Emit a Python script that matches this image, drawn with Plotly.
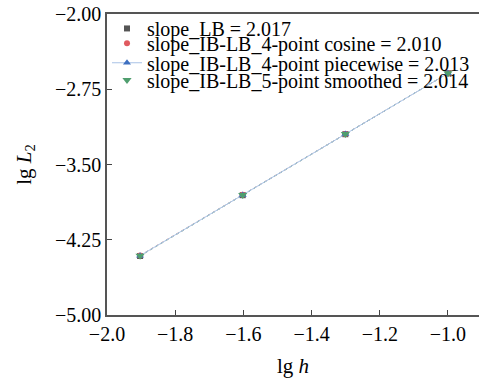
import plotly.graph_objects as go

lg_h = [-1.903, -1.602, -1.301, -1.000]
series_names = [
    "slope_LB = 2.017",
    "slope_IB-LB_4-point cosine = 2.010",
    "slope_IB-LB_4-point piecewise = 2.013",
    "slope_IB-LB_5-point smoothed = 2.014",
]
lb = [-4.412, -3.806, -3.198, -2.591]
cosine4 = [-4.406, -3.801, -3.195, -2.591]
piecewise4 = [-4.409, -3.803, -3.196, -2.591]
smoothed5 = [-4.410, -3.804, -3.197, -2.591]
x_ticks = [-2.0, -1.8, -1.6, -1.4, -1.2, -1.0]
y_ticks = [-2.00, -2.75, -3.50, -4.25, -5.00]

series = [lb, cosine4, piecewise4, smoothed5]
colors = ["#555555", "#e05a5f", "#3d6fc0", "#4f9e6e"]
line_colors = ["#888888", "#e88a8d", "#a9c2e6", "#8fc5a2"]
symbols = ["square", "circle", "triangle-up", "triangle-down"]
sizes = [6, 6, 7, 8]
legend_ids = ["legend", "legend2", "legend3", "legend4"]
legend_y = [0.952, 0.903, 0.838, 0.781]

font = "Times New Roman"
fig = go.Figure()
for i, ys in enumerate(series):
    fig.add_trace(go.Scatter(
        x=lg_h, y=ys, mode="lines", showlegend=False,
        line=dict(color=line_colors[i], width=1, dash="dot"),
        hoverinfo="skip"))
for i, (ys, name) in enumerate(zip(series, series_names)):
    mode = "lines+markers" if i == 2 else "markers"
    fig.add_trace(go.Scatter(
        x=lg_h, y=ys, mode=mode, name=name, legend=legend_ids[i],
        marker=dict(symbol=symbols[i], color=colors[i], size=sizes[i], line=dict(width=0)),
        line=dict(color=line_colors[i], width=1, dash="solid") if i == 2 else None))

leg_common = dict(x=0.0, xanchor="left", yanchor="middle",
                  bgcolor="rgba(0,0,0,0)", font=dict(size=20, family=font),
                  itemsizing="trace", itemwidth=30)
layout_legends = {}
for lid, ly in zip(legend_ids, legend_y):
    layout_legends[lid] = dict(y=ly, **leg_common)

fig.update_layout(
    width=479, height=378,
    margin=dict(l=107, r=0, t=14, b=63),
    paper_bgcolor="white", plot_bgcolor="white",
    font=dict(family=font, size=20, color="black"),
    showlegend=True,
    **layout_legends,
    xaxis=dict(range=[-2.0, -0.909], tickvals=x_ticks,
               ticktext=["\u22122.0", "\u22121.8", "\u22121.6", "\u22121.4", "\u22121.2", "\u22121.0"],
               ticks="inside", ticklen=5, tickcolor="#444", showgrid=False, zeroline=False,
               showline=True, linecolor="#555", linewidth=1.5, mirror=True,
               tickfont=dict(family=font, size=20),
               title=dict(text="lg <i>h</i>", standoff=16, font=dict(family=font, size=21))),
    yaxis=dict(range=[-5.0, -2.0], tickvals=y_ticks,
               ticktext=["\u22122.00", "\u22122.75", "\u22123.50", "\u22124.25", "\u22125.00"],
               ticks="inside", ticklen=5, tickcolor="#444", showgrid=False, zeroline=False,
               showline=True, linecolor="#555", linewidth=1.5,
               tickfont=dict(family=font, size=20),
               title=dict(text="lg <i>L</i><sub>2</sub>", standoff=18, font=dict(family=font, size=21))),
)
fig.write_html("out.html")
